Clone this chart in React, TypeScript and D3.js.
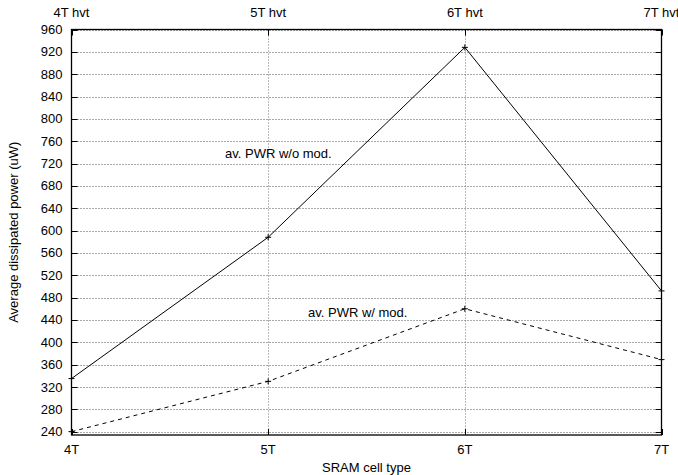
import React from "react";
import * as d3 from "d3";

const categories = ["4T", "5T", "6T", "7T"];
const topLabels = ["4T hvt", "5T hvt", "6T hvt", "7T hvt"];
const pwrWithoutMod = [335, 588, 928, 492];
const pwrWithMod = [240, 330, 460, 369];
const yTicks = [240, 280, 320, 360, 400, 440, 480, 520, 560, 600, 640, 680, 720, 760, 800, 840, 880, 920, 960];

const W = 678;
const H = 475;
const left = 71.5;
const right = 661.5;
const top = 29.5;
const bottom = 435;
const FONT = "'Liberation Sans', Arial, Helvetica, sans-serif";
const FS = 13;

export default function App() {
  const x = d3.scaleLinear().domain([0, categories.length - 1]).range([left, right]);
  const y = d3.scaleLinear().domain([234, 960]).range([bottom, top]);
  const line = d3
    .line<number>()
    .x((_, i) => x(i))
    .y((d) => y(d));

  const marker = (cx: number, cy: number, k: string) => (
    <path key={k} d={`M${cx - 3},${cy}H${cx + 3}M${cx},${cy - 3}V${cy + 3}`} stroke="#000" strokeWidth={1} />
  );

  return (
    <svg width={W} height={H} style={{ position: "absolute", left: 0, top: 0, background: "#fff" }}>
      <rect x={0} y={0} width={W} height={H} fill="#fff" />
      {yTicks.map((t) => (
        <line
          key={"g" + t}
          x1={left}
          x2={right}
          y1={Math.round(y(t)) + 0.5}
          y2={Math.round(y(t)) + 0.5}
          stroke="#555"
          strokeWidth={1}
          strokeDasharray="1,2"
        />
      ))}
      {categories.slice(1, -1).map((c, i) => (
        <line
          key={"v" + c}
          x1={Math.round(x(i + 1)) + 0.5}
          x2={Math.round(x(i + 1)) + 0.5}
          y1={top}
          y2={bottom}
          stroke="#777"
          strokeWidth={1}
          strokeDasharray="1,2"
        />
      ))}
      {yTicks.map((t) => (
        <g key={"t" + t}>
          <line x1={left} x2={left + 6} y1={Math.round(y(t)) + 0.5} y2={Math.round(y(t)) + 0.5} stroke="#000" />
          <line x1={right - 6} x2={right} y1={Math.round(y(t)) + 0.5} y2={Math.round(y(t)) + 0.5} stroke="#000" />
          <text x={62.5} y={y(t)} dy="0.35em" textAnchor="end" fontFamily={FONT} fontSize={FS} fill="#000">
            {t}
          </text>
        </g>
      ))}
      {categories.map((c, i) => (
        <g key={"x" + c}>
          <line x1={Math.round(x(i)) + 0.5} x2={Math.round(x(i)) + 0.5} y1={bottom} y2={bottom - 6} stroke="#000" />
          <line x1={Math.round(x(i)) + 0.5} x2={Math.round(x(i)) + 0.5} y1={top} y2={top + 6} stroke="#000" />
          <text x={x(i)} y={454} textAnchor="middle" fontFamily={FONT} fontSize={FS} fill="#000">
            {c}
          </text>
          <text x={x(i)} y={17} textAnchor="middle" fontFamily={FONT} fontSize={FS} fill="#000">
            {topLabels[i]}
          </text>
        </g>
      ))}
      <rect x={left} y={top} width={right - left} height={bottom - top} fill="none" stroke="#000" strokeWidth={1.3} />
      <path d={line(pwrWithoutMod) || ""} fill="none" stroke="#000" strokeWidth={1} />
      <path d={line(pwrWithMod) || ""} fill="none" stroke="#000" strokeWidth={1} strokeDasharray="4,4" />
      {pwrWithoutMod.map((v, i) => marker(x(i), y(v), "a" + i))}
      {pwrWithMod.map((v, i) => marker(x(i), y(v), "b" + i))}
      <text x={225} y={157.5} fontFamily={FONT} fontSize={FS} fill="#000">
        av. PWR w/o mod.
      </text>
      <text x={308} y={316.5} fontFamily={FONT} fontSize={FS} fill="#000">
        av. PWR w/ mod.
      </text>
      <text x={(left + right) / 2} y={472} textAnchor="middle" fontFamily={FONT} fontSize={FS} fill="#000">
        SRAM cell type
      </text>
      <text
        transform={`translate(18,${(top + bottom) / 2}) rotate(-90)`}
        textAnchor="middle"
        fontFamily={FONT}
        fontSize={FS}
        fill="#000"
      >
        Average dissipated power (uW)
      </text>
    </svg>
  );
}
